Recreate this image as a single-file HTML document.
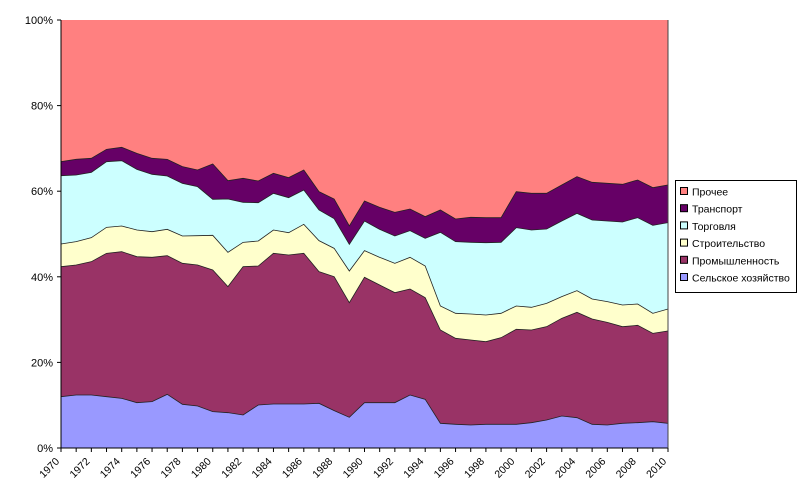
<!DOCTYPE html>
<html><head><meta charset="utf-8"><style>
body{margin:0;background:#fff;width:800px;height:498px;overflow:hidden;font-family:"Liberation Sans",sans-serif}
</style></head><body>
<svg id="s" width="800" height="498" xmlns="http://www.w3.org/2000/svg" font-family="Liberation Sans, sans-serif" font-size="11">
</svg>
<script>
const s=document.getElementById('s');
const A1=[770,765,765,770,775,788,785,763,793,798,815,818,825,795,792,792,792,790,812,812];
const I1=[380,375,365,340,335,350,352,347,370,375,390,440,380,378,340,345,340,395,410];
const C1=[312,305,293,262,258,270,275,268,288,287,286,337,307,303,270,278,253,302,325];
const T1=[107,105,97,65,62,88,103,108,130,140,178,177,187,188,160,173,150,210,236];
const R1=[65,58,55,28,22,40,55,58,80,90,72,122,115,123,100,113,90,155,177];
const A2=[832,788,788,788,765,778,850,853,855,853,853,853,848,840,828,833,853,855,850,848,845,850];
const I2=[488,412,435,458,447,473,570,595,600,605,593,568,570,560,535,517,537,547,560,556,580,573];
const C2=[393,332,352,370,352,378,498,520,522,525,520,498,502,490,470,452,477,485,495,492,520,507];
const T2=[313,243,268,288,272,295,277,305,307,308,307,263,270,267,243,220,240,243,246,233,256,248];
const R2=[258,183,202,217,207,230,210,237,232,233,233,155,160,160,135,110,127,130,133,120,143,135];
const A=A1.slice(0,19).concat(A2),I=I1.concat(I2),C=C1.concat(C2),T=T1.concat(T2),R=R1.concat(R2);
const X=i=>61+i*15.175, Y=v=>140+v/3;
const x0=61,x1=668,yt=20,yb=448;
let h='';
h+=`<rect x="${x0}" y="${yt}" width="${x1-x0}" height="${yb-yt}" fill="#FF8080"/>`;
function band(top,bot,col){
 let p=[];for(let i=0;i<41;i++)p.push(X(i)+','+Y(top[i]));
 for(let i=40;i>=0;i--)p.push(X(i)+','+(bot?Y(bot[i]):yb));
 h+=`<polygon points="${p.join(' ')}" fill="${col}" stroke="#222" stroke-width="0.8"/>`;
}
band(R,null,'#660066');band(T,null,'#CCFFFF');band(C,null,'#FFFFCC');band(I,null,'#993366');band(A,null,'#9999FF');
h+=`<line x1="${x0}" y1="${yt}" x2="${x0}" y2="${yb}" stroke="#000"/><line x1="${x0}" y1="${yb}" x2="${x1}" y2="${yb}" stroke="#000"/><line x1="${x1}" y1="${yt}" x2="${x1}" y2="${yb}" stroke="#444"/>`;
for(let k=0;k<=5;k++){const y=yb-k*(yb-yt)/5;h+=`<line x1="${x0-4}" y1="${y}" x2="${x0}" y2="${y}" stroke="#000"/><text x="${x0-8}" y="${y+4}" text-anchor="end">${k*20}%</text>`;}
for(let i=0;i<41;i++){const x=X(i);h+=`<line x1="${x}" y1="${yb}" x2="${x}" y2="${yb+4}" stroke="#000"/>`;
 if(i%2==0)h+=`<text transform="translate(${x-1},${yb+14}) rotate(-45)" text-anchor="end" font-size="10.5">${1970+i}</text>`;}
h+=`<rect x="675.5" y="180.5" width="121" height="112" fill="#fff" stroke="#000"/>`;
const L=[['Прочее','#FF8080'],['Транспорт','#660066'],['Торговля','#CCFFFF'],['Строительство','#FFFFCC'],['Промышленность','#993366'],['Сельское хозяйство','#9999FF']];
L.forEach((l,j)=>{const y=192+j*17.2;h+=`<rect x="680.5" y="${y-4.5}" width="7" height="7" fill="${l[1]}" stroke="#000"/><text x="692" y="${y+3.5}" font-size="10.5">${l[0]}</text>`;});
s.innerHTML=h;
</script>
</body></html>
